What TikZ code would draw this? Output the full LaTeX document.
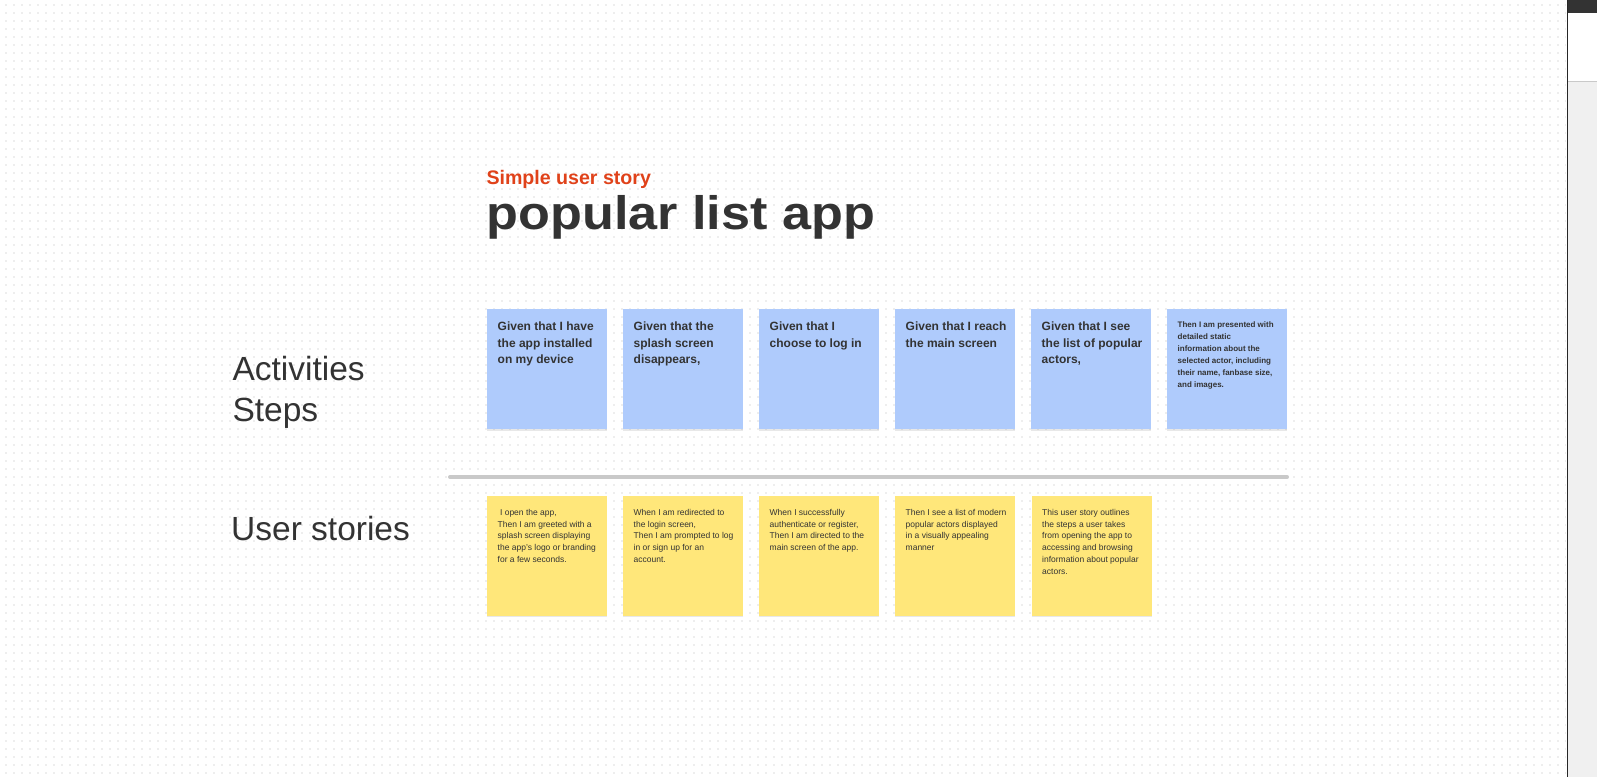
\documentclass[tikz,border=0pt]{standalone}
\usepackage{fontspec}
\setmainfont{Liberation Sans}
\newfontfamily\titlefont[FakeStretch=1.11]{Liberation Sans}
\usetikzlibrary{shadows}

\definecolor{ink}{HTML}{333333}
\definecolor{accent}{HTML}{E0421A}
\definecolor{noteblue}{HTML}{AFCBFC}
\definecolor{noteyellow}{HTML}{FFE77A}
\definecolor{dotgray}{HTML}{EEEEEE}
\definecolor{rulegray}{HTML}{C9C9C9}
\definecolor{panelgray}{HTML}{F0F0F0}

% stacked lines whose first baseline is the node's base
\newcommand\stack[1]{\begin{tabular}[t]{@{}l@{}}#1\end{tabular}}

\tikzset{
  note/.style={anchor=north west, minimum width=120pt, minimum height=120pt,
    inner sep=0pt, draw=none,
    drop shadow={shadow xshift=0pt, shadow yshift=-1.3pt, opacity=0.09, fill=black}},
  bluenote/.style={note, fill=noteblue},
  yellownote/.style={note, fill=noteyellow},
  notetext/.style={anchor=base west, inner sep=0pt, text=ink},
  bluetext/.style={notetext, xshift=10.5pt, yshift=-21.7pt,
    font=\fontsize{12}{16.3}\selectfont\bfseries},
  smalltext/.style={notetext, xshift=10.5pt, yshift=-18.3pt,
    font=\fontsize{8}{12}\selectfont\bfseries},
  yellowtext/.style={notetext, xshift=10.5pt, yshift=-20pt,
    font=\fontsize{8.5}{11.7}\selectfont},
  rowlabel/.style={anchor=base west, inner sep=0pt, text=ink,
    font=\fontsize{33.5}{40.3}\selectfont},
  dotline/.style={draw=dotgray, line width=2pt, dash pattern=on 2pt off 6pt},
  separator/.style={draw=rulegray, line width=4pt, line cap=round},
}

\begin{document}
\begin{tikzpicture}[x=1pt, y=-1pt]
  \useasboundingbox (0,0) rectangle (1597,777);
  \fill[white] (0,0) rectangle (1597,777);

  % dotted canvas grid
  \foreach \gy in {4.7,12.7,...,777}
    \draw[dotline] (5,\gy) -- (1566,\gy);

  % side panel
  \fill[panelgray] (1567,0) rectangle (1597,777);
  \fill[white] (1567,13.3) rectangle (1597,81);
  \fill[ink] (1567,0) rectangle (1597,13.3);
  \draw[draw=rulegray, line width=1pt] (1567,81.5) -- (1597,81.5);
  \draw[draw=black!85, line width=1.4pt] (1567.3,0) -- (1567.3,777);

  % heading
  \node[anchor=base west, inner sep=0pt, text=accent,
        font=\fontsize{19.6}{24}\selectfont\bfseries] (subtitle) at (486.3,184.3)
        {Simple user story};
  \node[anchor=base west, inner sep=0pt, text=ink,
        font=\titlefont\fontsize{47}{56}\selectfont\bfseries] (title) at (486.5,229.5)
        {popular list app};

  % row labels
  \node[rowlabel] (rowsteps) at (232.3,380.7) {\stack{Activities\\Steps}};
  \node[rowlabel] (rowstories) at (231,540) {User stories};

  % activity steps
  \node[bluenote] (s1) at (487,309) {};
  \node[bluenote] (s2) at (623,309) {};
  \node[bluenote] (s3) at (759,309) {};
  \node[bluenote] (s4) at (895,309) {};
  \node[bluenote] (s5) at (1031,309) {};
  \node[bluenote] (s6) at (1167,309) {};

  \node[bluetext] (t1) at (s1.north west) {\stack{Given that I have\\the app installed\\on my device}};
  \node[bluetext] (t2) at (s2.north west) {\stack{Given that the\\splash screen\\disappears,}};
  \node[bluetext] (t3) at (s3.north west) {\stack{Given that I\\choose to log in}};
  \node[bluetext] (t4) at (s4.north west) {\stack{Given that I reach\\the main screen}};
  \node[bluetext] (t5) at (s5.north west) {\stack{Given that I see\\the list of popular\\actors,}};
  \node[smalltext] (t6) at (s6.north west) {\stack{Then I am presented with\\detailed static\\information about the\\selected actor, including\\their name, fanbase size,\\and images.}};

  % separator between rows
  \coordinate (sepL) at (450,477);
  \coordinate (sepR) at (1287,477);
  \draw[separator] (sepL) -- (sepR);

  % user stories
  \node[yellownote] (u1) at (487,495.5) {};
  \node[yellownote] (u2) at (623,495.5) {};
  \node[yellownote] (u3) at (759,495.5) {};
  \node[yellownote] (u4) at (895,495.5) {};
  \node[yellownote] (u5) at (1031.5,495.5) {};

  \node[yellowtext] (v1) at (u1.north west) {\stack{\ I open the app,\\Then I am greeted with a\\splash screen displaying\\the app's logo or branding\\for a few seconds.}};
  \node[yellowtext] (v2) at (u2.north west) {\stack{When I am redirected to\\the login screen,\\Then I am prompted to log\\in or sign up for an\\account.}};
  \node[yellowtext] (v3) at (u3.north west) {\stack{When I successfully\\authenticate or register,\\Then I am directed to the\\main screen of the app.}};
  \node[yellowtext] (v4) at (u4.north west) {\stack{Then I see a list of modern\\popular actors displayed\\in a visually appealing\\manner}};
  \node[yellowtext] (v5) at (u5.north west) {\stack{This user story outlines\\the steps a user takes\\from opening the app to\\accessing and browsing\\information about popular\\actors.}};
\end{tikzpicture}
\end{document}
